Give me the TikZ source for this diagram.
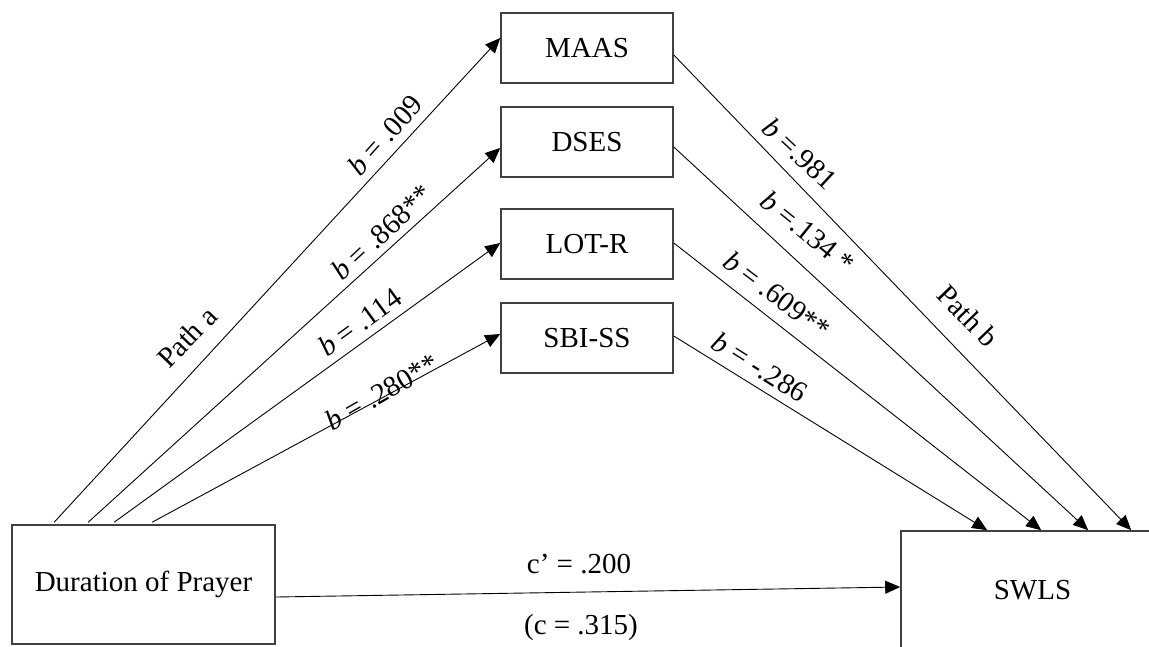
\documentclass[tikz,border=0pt]{standalone}
\usepackage{fontspec}
\setmainfont{Liberation Serif}
\usetikzlibrary{arrows.meta,calc}
\begin{document}
\begin{tikzpicture}[x=1pt,y=-1pt,
  box/.style={draw=black!75,line width=1.6pt,minimum width=172pt,minimum height=70pt,inner sep=0pt},
  bigbox/.style={draw=black!75,line width=1.6pt,minimum width=263pt,minimum height=119pt,inner sep=0pt},
  conn/.style={line width=0.9pt,-{Triangle[length=15pt,width=13pt]}},
  lbl/.style={inner sep=0pt},
  every node/.style={font=\fontsize{29}{34}\selectfont}]
\useasboundingbox (0,0) rectangle (1149,646);
\node[box] (maas) at (587,48) {MAAS};
\node[box] (dses) at (587,142) {DSES};
\node[box] (lotr) at (587,244) {LOT-R};
\node[box] (sbi) at (587,338) {SBI-SS};
\node[bigbox] (dur) at (143.5,584.5) {Duration of Prayer};
\node[bigbox] (swls) at (1032.5,590.5) {SWLS};
% start/end points
\coordinate (d1) at ($(dur.north west)+(43,-2)$);
\coordinate (d2) at ($(dur.north west)+(77,-2)$);
\coordinate (d3) at ($(dur.north west)+(103,-2)$);
\coordinate (d4) at ($(dur.north west)+(141,-2)$);
\coordinate (s1) at ($(swls.north west)+(231,0)$);
\coordinate (s2) at ($(swls.north west)+(188,0)$);
\coordinate (s3) at ($(swls.north west)+(141,0)$);
\coordinate (s4) at ($(swls.north west)+(87,0)$);
% path a
\draw[conn] (d1) -- ($(maas.west)+(0,-10)$);
\draw[conn] (d2) -- ($(dses.west)+(0,6)$);
\draw[conn] (d3) -- ($(lotr.west)+(0,-1)$);
\draw[conn] (d4) -- ($(sbi.west)+(0,-4)$);
% path b
\draw[conn] ($(maas.east)+(0,7)$) -- (s1);
\draw[conn] ($(dses.east)+(0,5)$) -- (s2);
\draw[conn] ($(lotr.east)+(0,-1)$) -- (s3);
\draw[conn] ($(sbi.east)+(0,-2)$) -- (s4);
% direct
\draw[conn] ($(dur.east)+(0,12.5)$) -- ($(swls.west)+(0,-3.5)$);
% labels
\node[lbl,rotate=46] (la) at (187,337) {Path a};
\node[lbl,rotate=48] (l1) at (385,135) {\textit{b} = .009};
\node[lbl,rotate=43] (l2) at (382,232) {\textit{b} = .868**};
\node[lbl,rotate=36] (l3) at (360,322) {\textit{b} = .114};
\node[lbl,rotate=30] (l4) at (382,392) {\textit{b} = .280**};
\node[lbl,rotate=-46] (lb) at (968,316) {Path b};
\node[lbl,rotate=-43] (r1) at (800,154) {\textit{b} =.981};
\node[lbl,rotate=-39] (r2) at (808,232) {\textit{b} =.134 *};
\node[lbl,rotate=-37] (r3) at (777,295) {\textit{b} = .609**};
\node[lbl,rotate=-32] (r4) at (760,367) {\textit{b} = -.286};
\node[lbl,anchor=base] (c1) at (579,573) {c’ = .200};
\node[lbl,anchor=base] (c2) at (581,634) {(c = .315)};
\end{tikzpicture}
\end{document}
